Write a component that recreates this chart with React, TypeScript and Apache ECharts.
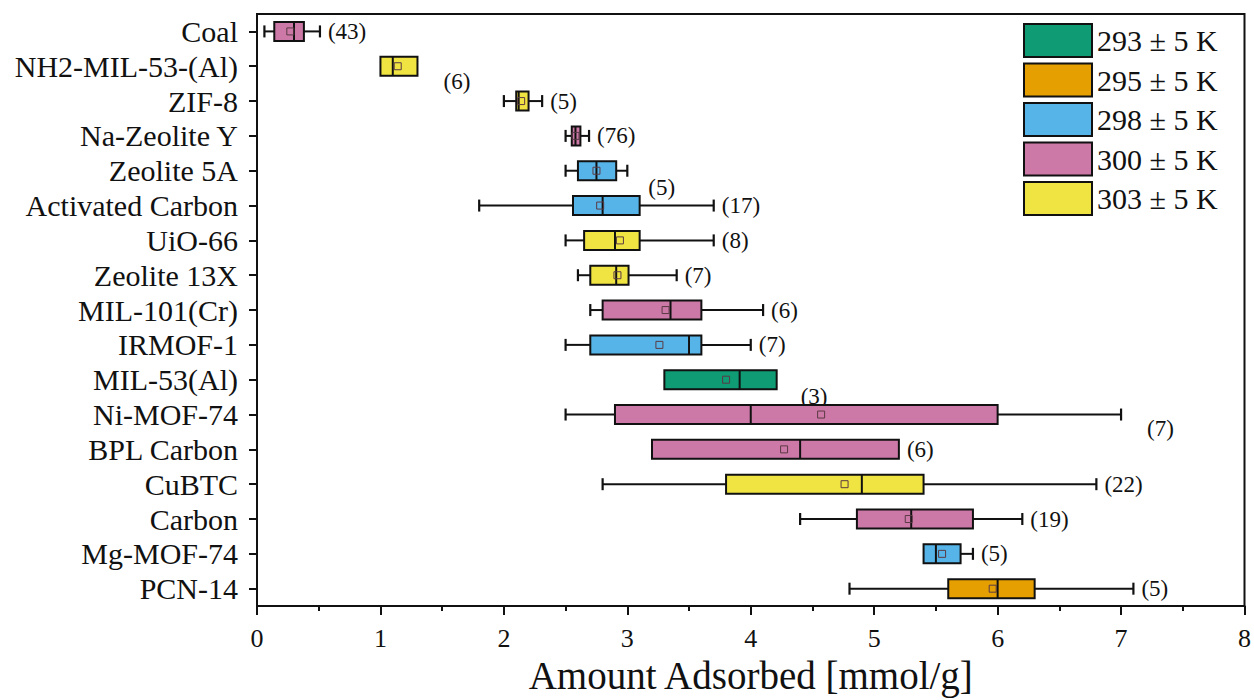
import React, { useEffect, useRef } from "react";
import * as echarts from "echarts";

const categories = [
  "Coal", "NH2-MIL-53-(Al)", "ZIF-8", "Na-Zeolite Y", "Zeolite 5A", "Activated Carbon",
  "UiO-66", "Zeolite 13X", "MIL-101(Cr)", "IRMOF-1", "MIL-53(Al)", "Ni-MOF-74",
  "BPL Carbon", "CuBTC", "Carbon", "Mg-MOF-74", "PCN-14",
];
const temperatures = [
  "300 ± 5 K", "303 ± 5 K", "303 ± 5 K", "300 ± 5 K", "298 ± 5 K", "298 ± 5 K",
  "303 ± 5 K", "303 ± 5 K", "300 ± 5 K", "298 ± 5 K", "293 ± 5 K", "300 ± 5 K",
  "300 ± 5 K", "303 ± 5 K", "300 ± 5 K", "298 ± 5 K", "295 ± 5 K",
];
const mins = [0.06, 1.0, 2.0, 2.5, 2.5, 1.8, 2.5, 2.6, 2.7, 2.5, 3.3, 2.5, 3.2, 2.8, 4.4, 5.4, 4.8];
const q1s = [0.14, 1.0, 2.1, 2.55, 2.6, 2.56, 2.65, 2.7, 2.8, 2.7, 3.3, 2.9, 3.2, 3.8, 4.86, 5.4, 5.6];
const medians = [0.3, 1.1, 2.12, 2.58, 2.75, 2.8, 2.9, 2.91, 3.35, 3.5, 3.91, 4.0, 4.4, 4.9, 5.3, 5.5, 6.0];
const q3s = [0.38, 1.3, 2.2, 2.62, 2.91, 3.1, 3.1, 3.01, 3.6, 3.6, 4.21, 6.0, 5.2, 5.4, 5.8, 5.7, 6.3];
const maxs = [0.51, 1.3, 2.31, 2.69, 3.0, 3.7, 3.7, 3.4, 4.1, 4.0, 4.21, 7.0, 5.2, 6.8, 6.2, 5.8, 7.1];
const means = [0.27, 1.14, 2.14, 2.58, 2.75, 2.78, 2.94, 2.92, 3.31, 3.26, 3.8, 4.57, 4.27, 4.76, 5.28, 5.55, 5.96];
const counts = [43, 6, 5, 76, 5, 17, 8, 7, 6, 7, 3, 7, 6, 22, 19, 5, 5];

const legendNames = ["293 ± 5 K", "295 ± 5 K", "298 ± 5 K", "300 ± 5 K", "303 ± 5 K"];
const legendColors = ["#0f9b74", "#e69f00", "#56b4e9", "#cc79a7", "#f0e442"];

// label placement tweaks (pixels): [dx, dy]
const labelOffsets: Record<number, [number, number]> = {
  1: [26, 15],
  4: [21, 17],
  10: [24, 17],
  11: [26, 14],
};

const FONT = "Liberation Serif";

export default function App() {
  const ref = useRef<HTMLDivElement>(null);
  useEffect(() => {
    document.body.style.margin = "0";
    if (!ref.current) return;
    const chart = echarts.init(ref.current, null, { renderer: "svg" });

    const renderItem = (params: any, api: any) => {
      const idx = api.value(0);
      const vMin = api.value(1), vQ1 = api.value(2), vMed = api.value(3);
      const vQ3 = api.value(4), vMax = api.value(5), vMean = api.value(6), n = api.value(7);
      const [xMin, y] = api.coord([vMin, idx]);
      const xQ1 = api.coord([vQ1, idx])[0];
      const xMed = api.coord([vMed, idx])[0];
      const xQ3 = api.coord([vQ3, idx])[0];
      const xMax = api.coord([vMax, idx])[0];
      const xMean = api.coord([vMean, idx])[0];
      const h = 19;
      const cap = 6;
      const color = api.visual("color");
      const children: any[] = [];
      const lineStyle = { stroke: "#111", lineWidth: 2 };
      if (vMin < vQ1) {
        children.push({ type: "line", shape: { x1: xMin, y1: y, x2: xQ1, y2: y }, style: lineStyle });
        children.push({ type: "line", shape: { x1: xMin, y1: y - cap, x2: xMin, y2: y + cap }, style: { stroke: "#111", lineWidth: 2.2 } });
      }
      if (vMax > vQ3) {
        children.push({ type: "line", shape: { x1: xQ3, y1: y, x2: xMax, y2: y }, style: lineStyle });
        children.push({ type: "line", shape: { x1: xMax, y1: y - cap, x2: xMax, y2: y + cap }, style: { stroke: "#111", lineWidth: 2.2 } });
      }
      children.push({
        type: "rect",
        shape: { x: xQ1, y: y - h / 2, width: xQ3 - xQ1, height: h },
        style: { fill: color, stroke: "#111", lineWidth: 2 },
      });
      children.push({
        type: "line",
        shape: { x1: xMed, y1: y - h / 2, x2: xMed, y2: y + h / 2 },
        style: { stroke: "#111", lineWidth: 2 },
      });
      children.push({
        type: "rect",
        shape: { x: xMean - 3.5, y: y - 3.5, width: 7, height: 7 },
        style: { fill: "none", stroke: "#5a3a44", lineWidth: 1 },
      });
      const off = labelOffsets[idx] || [8, 0];
      children.push({
        type: "text",
        x: xMax + off[0],
        y: y + off[1],
        style: {
          text: "(" + n + ")",
          fill: "#111",
          font: `23px "${FONT}"`,
          verticalAlign: "middle",
          align: "left",
        },
      });
      return { type: "group", children };
    };

    const series = legendNames.map((name, si) => ({
      type: "custom",
      name,
      renderItem,
      itemStyle: { color: legendColors[si], borderColor: "#111", borderWidth: 2 },
      encode: { x: [1, 2, 3, 4, 5], y: 0 },
      data: categories
        .map((_, i) => i)
        .filter((i) => temperatures[i] === name)
        .map((i) => [i, mins[i], q1s[i], medians[i], q3s[i], maxs[i], means[i], counts[i]]),
      z: 3,
    }));

    chart.setOption({
      animation: false,
      textStyle: { fontFamily: FONT },
      grid: {
        left: 257,
        right: 9,
        top: 14,
        bottom: 91,
        show: true,
        borderColor: "#111",
        borderWidth: 2,
        containLabel: false,
      },
      legend: {
        data: legendNames,
        orient: "vertical",
        left: 1023,
        top: 23,
        padding: 0,
        icon: "rect",
        itemWidth: 68,
        itemHeight: 33,
        itemGap: 4.5,
        itemStyle: { borderColor: "#111", borderWidth: 2 },
        textStyle: { fontFamily: FONT, fontSize: 30, color: "#111" },
        selectedMode: false,
      },
      xAxis: {
        type: "value",
        min: 0,
        max: 8,
        interval: 1,
        name: "Amount Adsorbed [mmol/g]",
        nameLocation: "middle",
        nameGap: 46,
        nameTextStyle: { fontFamily: FONT, fontSize: 39, color: "#111" },
        axisLine: { show: true, onZero: false, lineStyle: { color: "#111", width: 2 } },
        axisTick: { show: true, inside: false, length: 9, lineStyle: { color: "#111", width: 2 } },
        minorTick: { show: true, splitNumber: 2, length: 5, lineStyle: { color: "#111", width: 2 } },
        axisLabel: { fontFamily: FONT, fontSize: 26, color: "#111", margin: 19 },
        splitLine: { show: false },
      },
      yAxis: {
        type: "category",
        data: categories,
        inverse: true,
        axisLine: { show: true, lineStyle: { color: "#111", width: 2 } },
        axisTick: { show: true, alignWithLabel: true, interval: 0, length: 8, lineStyle: { color: "#111", width: 2 } },
        axisLabel: { fontFamily: FONT, fontSize: 30, color: "#111", margin: 19, interval: 0 },
        splitLine: { show: false },
      },
      series,
    });
    return () => chart.dispose();
  }, []);
  return <div ref={ref} style={{ width: 1254, height: 700 }} />;
}
